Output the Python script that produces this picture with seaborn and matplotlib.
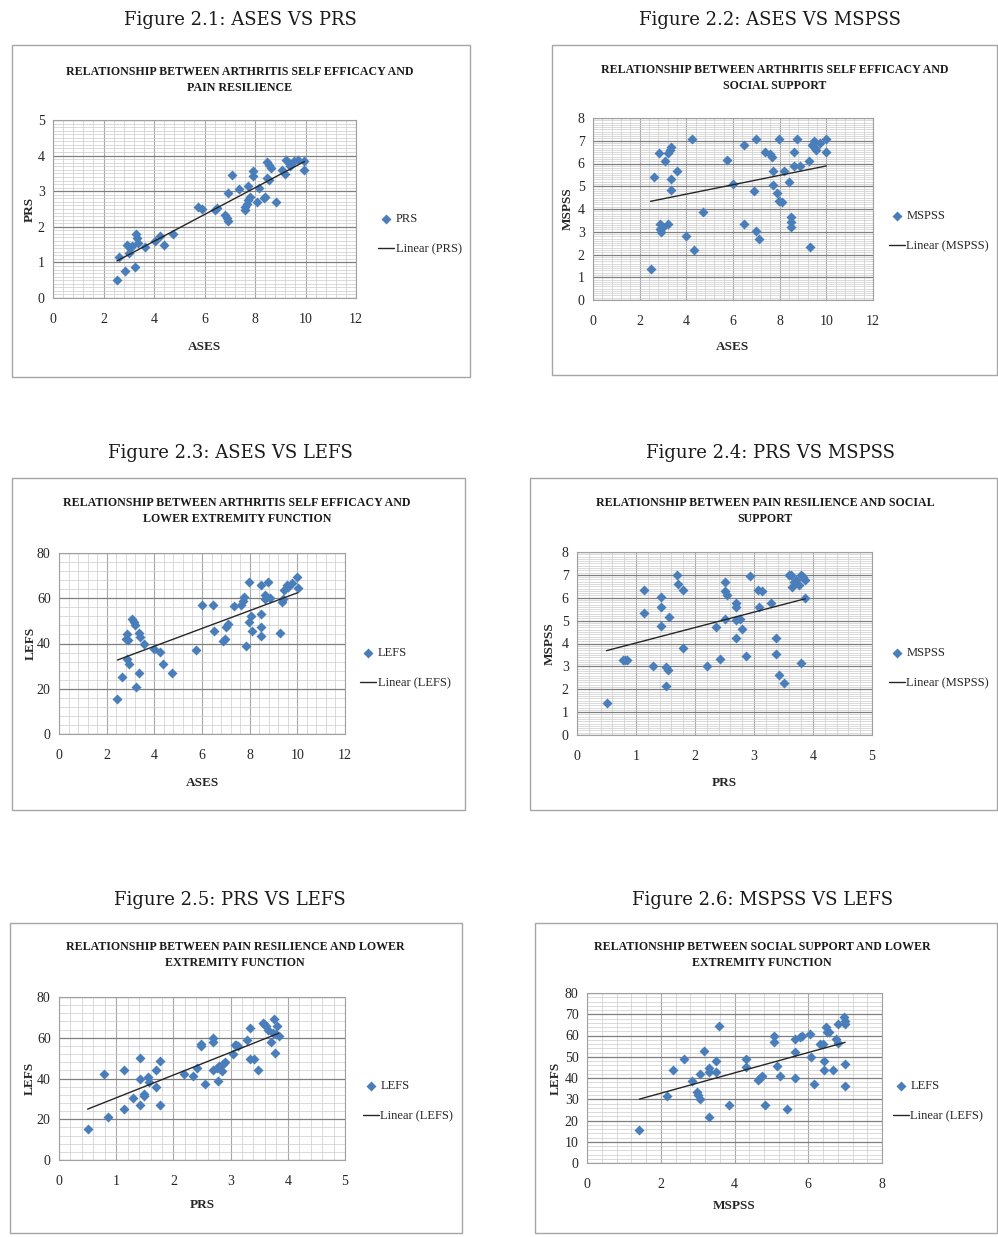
import matplotlib
matplotlib.use("Agg")
import matplotlib.pyplot as plt
from matplotlib.patches import Rectangle
from matplotlib.ticker import MultipleLocator
import seaborn as sns

W, H = 998, 1237
BLUE = "#4a7ebb"

# Figure 2.1: ASES vs PRS
ases_21 = [2.53, 2.63, 2.86, 2.93, 3.00, 3.06, 3.13, 3.23, 3.29, 3.32, 3.36, 3.65, 4.05, 4.25, 4.38,
           4.74, 5.74, 5.92, 6.42, 6.49, 6.82, 6.89, 6.95, 6.95, 7.08, 7.35, 7.59, 7.61, 7.68, 7.74,
           7.81, 7.73, 7.94, 7.94, 8.07, 8.14, 8.34, 8.40, 8.47, 8.56, 8.64, 8.47, 8.54, 8.83, 9.07,
           9.20, 9.22, 9.33, 9.39, 9.56, 9.70, 9.96, 9.96]
prs_21 = [0.51, 1.16, 0.77, 1.49, 1.26, 1.40, 1.45, 0.88, 1.80, 1.68, 1.54, 1.43, 1.59, 1.73, 1.49,
          1.80, 2.57, 2.50, 2.48, 2.53, 2.34, 2.24, 2.17, 2.95, 3.45, 3.07, 2.48, 2.57, 2.65, 2.76,
          2.84, 3.14, 3.58, 3.42, 2.71, 3.09, 2.81, 2.85, 3.81, 3.75, 3.65, 3.37, 3.31, 2.69, 3.60,
          3.47, 3.89, 3.79, 3.72, 3.84, 3.89, 3.84, 3.60]

# Figure 2.2: ASES vs MSPSS
ases_22 = [2.47, 2.60, 2.83, 2.86, 2.89, 2.93, 3.00, 3.08, 3.22, 3.29, 3.36, 3.22, 3.36, 3.36, 3.58,
           3.98, 4.23, 4.34, 4.72, 5.73, 5.99, 6.48, 6.49, 6.88, 6.99, 6.99, 7.13, 7.38, 7.59, 7.66,
           7.73, 7.73, 7.88, 7.98, 7.96, 8.09, 8.17, 8.38, 8.48, 8.48, 8.48, 8.62, 8.62, 8.74, 8.88,
           9.24, 9.28, 9.38, 9.45, 9.50, 9.54, 9.74, 10.0, 10.0]
mspss_22 = [1.38, 5.42, 6.48, 3.33, 3.11, 3.00, 3.19, 6.11, 6.45, 6.59, 6.74, 3.33, 5.32, 4.84, 5.68,
            2.83, 7.06, 2.18, 3.87, 6.15, 5.10, 6.81, 3.33, 4.81, 7.06, 3.05, 2.67, 6.51, 6.40, 6.30,
            5.67, 5.07, 4.72, 7.06, 4.37, 4.32, 5.67, 5.17, 3.63, 3.44, 3.19, 6.52, 5.89, 7.06, 5.89,
            6.12, 2.31, 6.81, 7.00, 6.70, 6.59, 6.89, 7.06, 6.52]

# Figure 2.3: ASES vs LEFS
ases_23 = [2.45, 2.64, 2.82, 2.85, 2.88, 2.85, 2.92, 3.06, 3.13, 3.20, 3.24, 3.34, 3.34, 3.39, 3.55,
           3.98, 4.23, 4.37, 4.75, 5.74, 5.98, 6.46, 6.49, 6.88, 6.97, 7.01, 7.08, 7.36, 7.64, 7.71,
           7.76, 7.86, 7.97, 7.99, 8.07, 8.10, 8.49, 8.49, 8.49, 8.49, 8.63, 8.66, 8.77, 8.84, 9.26,
           9.34, 9.38, 9.45, 9.55, 9.62, 9.79, 10.0, 10.01]
lefs_23 = [15.3, 25.1, 42.2, 44.2, 41.5, 33.0, 30.8, 50.9, 49.7, 48.3, 20.7, 44.5, 27.1, 42.7, 40.0,
           37.5, 36.4, 31.1, 26.8, 37.0, 57.1, 57.1, 45.4, 41.2, 41.9, 47.1, 48.6, 56.4, 56.8, 58.7,
           60.5, 39.0, 67.2, 49.4, 52.3, 45.4, 53.1, 65.7, 47.1, 43.4, 61.3, 59.8, 67.2, 60.1, 44.5,
           58.3, 59.8, 63.5, 65.7, 65.0, 66.8, 69.4, 64.7]

# Figure 2.4: PRS vs MSPSS
prs_24 = [0.50, 0.78, 0.82, 0.85, 1.14, 1.14, 1.29, 1.42, 1.42, 1.42, 1.50, 1.51, 1.55, 1.56, 1.69,
          1.71, 1.80, 1.80, 2.20, 2.36, 2.42, 2.50, 2.50, 2.54, 2.50, 2.70, 2.70, 2.70, 2.70, 2.76,
          2.79, 2.86, 2.93, 3.06, 3.14, 3.08, 3.29, 3.37, 3.37, 3.43, 3.50, 3.59, 3.63, 3.64, 3.68,
          3.72, 3.76, 3.79, 3.79, 3.83, 3.87, 3.87]
mspss_24 = [1.38, 3.27, 3.27, 3.27, 6.36, 5.34, 3.03, 6.04, 5.60, 4.76, 2.15, 2.98, 2.84, 5.16, 6.98,
            6.62, 6.36, 3.81, 3.03, 4.73, 3.32, 6.69, 6.28, 6.14, 5.06, 5.75, 5.60, 5.02, 4.26, 5.05,
            4.63, 3.45, 6.95, 6.36, 6.28, 5.60, 5.77, 4.26, 3.53, 2.62, 2.28, 6.98, 6.98, 6.47, 6.69,
            6.76, 6.55, 6.98, 3.13, 6.91, 6.79, 6.00]

# Figure 2.5: PRS vs LEFS
prs_25 = [0.50, 0.78, 0.85, 1.13, 1.13, 1.29, 1.42, 1.42, 1.42, 1.48, 1.49, 1.56, 1.58, 1.70, 1.70,
          1.77, 1.77, 2.19, 2.34, 2.41, 2.48, 2.48, 2.55, 2.69, 2.69, 2.69, 2.76, 2.78, 2.80, 2.85,
          2.86, 2.90, 3.05, 3.07, 3.10, 3.13, 3.28, 3.34, 3.34, 3.41, 3.48, 3.56, 3.59, 3.62, 3.65,
          3.70, 3.74, 3.75, 3.77, 3.80, 3.81, 3.84]
lefs_25 = [15.2, 42.3, 21.3, 44.4, 25.0, 30.2, 50.3, 39.8, 26.9, 32.6, 31.3, 40.6, 38.2, 44.4, 35.8,
           48.4, 26.9, 42.3, 41.0, 45.2, 56.8, 56.0, 37.1, 60.0, 58.1, 44.4, 45.2, 39.0, 46.3, 43.9,
           47.1, 47.9, 51.9, 56.5, 56.5, 56.0, 58.7, 64.8, 49.5, 49.5, 44.4, 67.3, 66.8, 65.6, 64.0,
           57.9, 62.1, 69.4, 52.7, 61.6, 65.6, 60.8]

# Figure 2.6: MSPSS vs LEFS
mspss_26 = [1.42, 2.16, 2.33, 2.64, 2.84, 2.98, 3.02, 3.07, 3.07, 3.16, 3.32, 3.32, 3.32, 3.50, 3.50,
            3.59, 3.84, 4.32, 4.32, 4.65, 4.70, 4.74, 4.83, 5.06, 5.06, 5.15, 5.24, 5.42, 5.65, 5.65,
            5.65, 5.78, 5.83, 6.05, 6.07, 6.16, 6.33, 6.40, 6.42, 6.42, 6.49, 6.51, 6.55, 6.67, 6.76,
            6.80, 6.82, 6.96, 7.00, 7.00, 7.00, 7.00]
lefs_26 = [15.4, 31.5, 43.8, 48.9, 38.5, 33.5, 31.8, 30.0, 41.8, 52.8, 44.9, 42.6, 21.5, 48.0, 42.8,
           64.6, 27.4, 48.8, 45.4, 38.9, 40.0, 40.8, 27.4, 60.0, 56.9, 45.8, 40.8, 25.4, 58.5, 52.3,
           40.0, 59.2, 60.0, 60.8, 50.0, 37.4, 56.2, 56.2, 48.0, 43.8, 63.8, 61.8, 61.5, 43.8, 58.2,
           56.6, 65.4, 68.5, 66.9, 65.4, 46.6, 36.2]

captions = ["Figure 2.1: ASES VS PRS", "Figure 2.2: ASES VS MSPSS", "Figure 2.3: ASES VS LEFS",
            "Figure 2.4: PRS VS MSPSS", "Figure 2.5: PRS VS LEFS", "Figure 2.6: MSPSS VS LEFS"]
titles = ["RELATIONSHIP BETWEEN ARTHRITIS SELF EFFICACY AND\nPAIN RESILIENCE",
          "RELATIONSHIP BETWEEN ARTHRITIS SELF EFFICACY AND\nSOCIAL SUPPORT",
          "RELATIONSHIP BETWEEN ARTHRITIS SELF EFFICACY AND\nLOWER EXTREMITY FUNCTION",
          "RELATIONSHIP BETWEEN PAIN RESILIENCE AND SOCIAL\nSUPPORT",
          "RELATIONSHIP BETWEEN PAIN RESILIENCE AND LOWER\nEXTREMITY FUNCTION",
          "RELATIONSHIP BETWEEN SOCIAL SUPPORT AND LOWER\nEXTREMITY FUNCTION"]

panels = [
    dict(x=ases_21, y=prs_21, xname="ASES", yname="PRS", xmax=12, xmaj=2, ymax=5, ymaj=1, ymin=0.1,
         box=(12, 45, 470, 377), axes=(53, 120, 356, 298), cap=(240, 20), title=(240, 80),
         xlab=347, ylab=30, leg=(378, 213)),
    dict(x=ases_22, y=mspss_22, xname="ASES", yname="MSPSS", xmax=12, xmaj=2, ymax=8, ymaj=1, ymin=0.1,
         box=(552, 45, 997, 375), axes=(593, 118, 873, 300), cap=(770, 20), title=(775, 78),
         xlab=347, ylab=568, leg=(889, 210)),
    dict(x=ases_23, y=lefs_23, xname="ASES", yname="LEFS", xmax=12, xmaj=2, ymax=80, ymaj=20, ymin=4,
         box=(12, 478, 465, 810), axes=(59, 553, 345, 734), cap=(230, 453), title=(237, 511),
         xlab=783, ylab=31, leg=(360, 647)),
    dict(x=prs_24, y=mspss_24, xname="PRS", yname="MSPSS", xmax=5, xmaj=1, ymax=8, ymaj=1, ymin=0.1,
         box=(530, 478, 997, 810), axes=(577, 552, 872, 735), cap=(770, 453), title=(765, 511),
         xlab=783, ylab=550, leg=(889, 647)),
    dict(x=prs_25, y=lefs_25, xname="PRS", yname="LEFS", xmax=5, xmaj=1, ymax=80, ymaj=20, ymin=4,
         box=(10, 923, 462, 1233), axes=(59, 997, 345, 1160), cap=(230, 900), title=(235, 955),
         xlab=1205, ylab=30, leg=(363, 1080)),
    dict(x=mspss_26, y=lefs_26, xname="MSPSS", yname="LEFS", xmax=8, xmaj=2, ymax=80, ymaj=10, ymin=2,
         box=(535, 923, 997, 1233), axes=(587, 993, 882, 1163), cap=(763, 900), title=(762, 955),
         xlab=1206, ylab=556, leg=(893, 1080)),
]

sns.set_theme(style="white")
plt.rcParams["font.family"] = ["Liberation Serif", "DejaVu Serif"]

fig = plt.figure(figsize=(W / 100, H / 100), dpi=100)


def fx(px):
    return px / W


def fy(py):
    return 1 - py / H


for i, p in enumerate(panels):
    l, t, r, b = p["box"]
    fig.add_artist(Rectangle((fx(l), fy(b)), (r - l) / W, (b - t) / H, transform=fig.transFigure,
                             fill=False, edgecolor="#a6a6a6", linewidth=1.0))
    fig.text(fx(p["cap"][0]), fy(p["cap"][1]), captions[i], ha="center", va="center",
             family="DejaVu Serif", fontsize=13, color="#1a1a1a")
    fig.text(fx(p["title"][0]), fy(p["title"][1]), titles[i], ha="center", va="center",
             fontweight="bold", fontsize=8.6, linespacing=1.55, color="#1a1a1a")

    al, at, ar, ab = p["axes"]
    ax = fig.add_axes([fx(al), fy(ab), (ar - al) / W, (ab - at) / H])
    sns.scatterplot(x=p["x"], y=p["y"], ax=ax, marker="D", s=26, color=BLUE, edgecolor=BLUE,
                    linewidth=0, label=p["yname"], zorder=3)
    sns.regplot(x=p["x"], y=p["y"], ax=ax, scatter=False, ci=None, color="#262626",
                line_kws={"lw": 1.0, "zorder": 4}, label="Linear (%s)" % p["yname"])

    ax.set_xlim(0, p["xmax"])
    ax.set_ylim(0, p["ymax"])
    ax.xaxis.set_major_locator(MultipleLocator(p["xmaj"]))
    ax.xaxis.set_minor_locator(MultipleLocator(p["xmaj"] / 5))
    ax.yaxis.set_major_locator(MultipleLocator(p["ymaj"]))
    ax.yaxis.set_minor_locator(MultipleLocator(p["ymin"]))
    ax.set_axisbelow(True)
    ax.grid(which="minor", color="#cccccc", linewidth=0.5)
    ax.grid(which="major", axis="x", color="#a8a8a8", linewidth=0.8)
    ax.grid(which="major", axis="y", color="#7f7f7f", linewidth=0.9)
    for sp in ax.spines.values():
        sp.set_color("#a0a0a0")
        sp.set_linewidth(0.8)
    ax.tick_params(which="minor", length=0)
    ax.tick_params(which="major", length=3, color="#888888", labelsize=10, labelcolor="#262626")
    ax.tick_params(axis="x", which="major", pad=8)
    ax.tick_params(axis="y", which="major", pad=3)

    ax.set_xlabel(p["xname"], fontweight="bold", fontsize=9.5, va="center")
    ax.xaxis.set_label_coords(0.5, -(p["xlab"] - ab) / (ab - at))
    ax.set_ylabel(p["yname"], fontweight="bold", fontsize=9.5, va="center")
    ax.yaxis.set_label_coords(-(al - p["ylab"]) / (ar - al), 0.5)

    ax.legend(loc="upper left", bbox_to_anchor=(fx(p["leg"][0]), fy(p["leg"][1])),
              bbox_transform=fig.transFigure, frameon=False, fontsize=9, handlelength=1.3,
              handletextpad=0.1, labelspacing=1.45, borderpad=0, borderaxespad=0, markerscale=1.0)

fig.savefig("out.png", dpi=100, facecolor="white")
